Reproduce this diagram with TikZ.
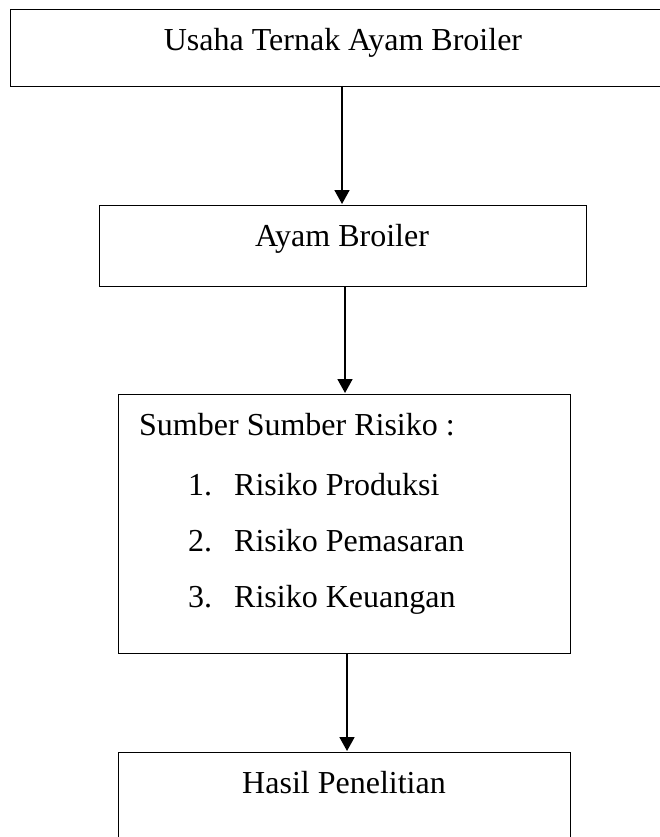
\documentclass[tikz,border=0pt]{standalone}
\usepackage{fontspec}
\setmainfont{Liberation Serif}
\usetikzlibrary{arrows.meta}
\begin{document}
\begin{tikzpicture}[x=1pt,y=1pt,
  boxstyle/.style={draw=black,line width=1.2pt,rectangle,inner sep=0pt,anchor=north west},
  txt/.style={font=\fontsize{32}{38}\selectfont,anchor=base,inner sep=0pt},
  ltxt/.style={font=\fontsize{32}{38}\selectfont,anchor=base west,inner sep=0pt},
  arr/.style={line width=1.8pt,-{Triangle[width=15pt,length=14pt]}}]
\useasboundingbox (0,0) rectangle (659,-837);
% boxes
\node[boxstyle,minimum width=670pt,minimum height=77pt] (b1) at (10,-9) {};
\node[boxstyle,minimum width=487pt,minimum height=81pt] (b2) at (99,-205) {};
\node[boxstyle,minimum width=452pt,minimum height=259pt] (b3) at (118,-394) {};
\node[boxstyle,minimum width=452pt,minimum height=110pt] (b4) at (118,-752) {};
% texts
\node[txt] (t1) at (343,-51) {Usaha Ternak Ayam Broiler};
\node[txt] (t2) at (342,-246) {Ayam Broiler};
\node[ltxt] (t3) at (139,-435) {Sumber Sumber Risiko :};
\node[ltxt] (n1) at (188,-495) {1.};
\node[ltxt] (i1) at (234,-495) {Risiko Produksi};
\node[ltxt] (n2) at (188,-551) {2.};
\node[ltxt] (i2) at (234,-551) {Risiko Pemasaran};
\node[ltxt] (n3) at (188,-607) {3.};
\node[ltxt] (i3) at (234,-607) {Risiko Keuangan};
\node[txt] (t4) at (344,-793) {Hasil Penelitian};
% connectors
\coordinate (a1s) at (342,-86);
\coordinate (a1e) at (342,-204);
\coordinate (a2s) at (345,-286);
\coordinate (a2e) at (345,-393);
\coordinate (a3s) at (347,-653);
\coordinate (a3e) at (347,-751);
\draw[arr] (a1s) -- (a1e);
\draw[arr] (a2s) -- (a2e);
\draw[arr] (a3s) -- (a3e);
\end{tikzpicture}
\end{document}
